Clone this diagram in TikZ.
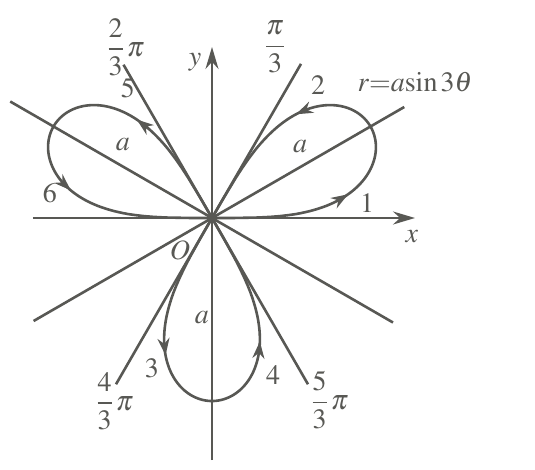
\documentclass[tikz,border=0pt]{standalone}
\usepackage{mathptmx}
\usetikzlibrary{arrows.meta}
\definecolor{inkgray}{RGB}{88,88,84}
\newcommand{\rosea}{183}
\begin{document}
\begin{tikzpicture}[x=1pt,y=1pt,
  axis/.style={line width=2.2pt,color=inkgray,-{Stealth[length=22pt,width=13pt]}},
  ray/.style={line width=2.6pt,color=inkgray},
  petal/.style={line width=2.6pt,color=inkgray,line join=round},
  petaltip/.style={line width=2.6pt,color=inkgray,-{Stealth[length=17pt,width=12pt]}},
  lbl/.style={font=\fontsize{28}{32}\selectfont,text=inkgray,inner sep=0pt}]
\useasboundingbox (-212,-251) rectangle (323,218);
% axes
\draw[axis] (-179,0) -- (203,0);
\draw[axis] (0,-242) -- (0,171);
% rays through the petals and their ends
\draw[ray] (210:206) -- (30:222);
\draw[ray] (150:233) -- (330:209);
\draw[ray] (240:192) -- (60:178);
\draw[ray] (300:192) -- (120:177);
% petals of the rose
\foreach \ctr in {30,150,270}
  \draw[petal] (0,0) -- plot[domain=\ctr-29.9:\ctr+29.9,samples=120]
    (\x:{\rosea*pow(abs(cos(3*(\x-\ctr))),0.4)}) -- (0,0);
% direction marks
\foreach \ang/\ctr in {9.9/30,51/30,127.4/150,168.9/150,251.3/270,291.2/270}
  \draw[petaltip] plot[domain=\ang-2:\ang,samples=2]
    (\x:{\rosea*pow(abs(cos(3*(\x-\ctr))),0.4)});
% labels
\node[lbl] (xlab) at (200,-19) {$x$};
\node[lbl] (ylab) at (-17,156) {$y$};
\node[lbl] (olab) at (-32,-32) {$O$};
\node[lbl] (eqn) at (203,136) {$r{=}a\!\sin 3\theta$};
\node[lbl] (one) at (155,15) {$1$};
\node[lbl] (two) at (106,133) {$2$};
\node[lbl] (three) at (-60,-150) {$3$};
\node[lbl] (four) at (61,-157) {$4$};
\node[lbl] (five) at (-84,130) {$5$};
\node[lbl] (six) at (-162,25) {$6$};
\node[lbl] (aone) at (88,71) {$a$};
\node[lbl] (atwo) at (-89,73) {$a$};
\node[lbl] (athree) at (-10,-100) {$a$};
\node[lbl] (third) at (63,171) {$\displaystyle\frac{\pi}{3}$};
\node[lbl] (twothird) at (-86,171) {$\displaystyle\frac{2}{3}\,\pi$};
\node[lbl] (fourthird) at (-97,-183) {$\displaystyle\frac{4}{3}\,\pi$};
\node[lbl] (fivethird) at (118,-182) {$\displaystyle\frac{5}{3}\,\pi$};
\end{tikzpicture}
\end{document}
